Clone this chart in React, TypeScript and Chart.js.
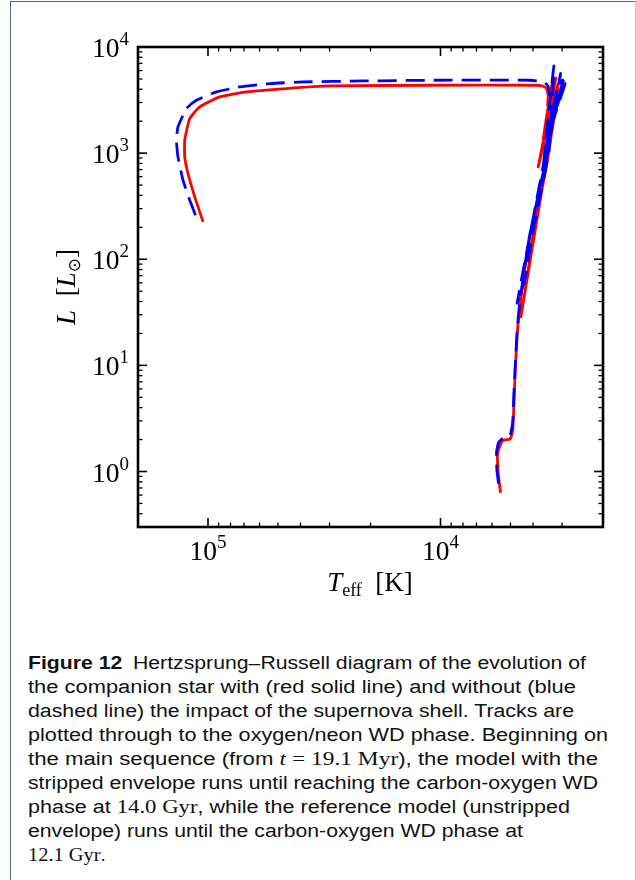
import React, { useEffect, useLayoutEffect, useRef } from "react";
import { Chart, registerables } from "chart.js";

Chart.register(...registerables);

// Evolutionary tracks of the companion star: effective temperature [K] and luminosity [L_sun]
// With the supernova shell impact (stripped envelope)
const strippedTeff = [
  5517, 5649, 5682, 5462, 5287, 5030, 4917, 4868, 4820, 4754, 4661, 4556, 4410, 4126, 3737, 3497,
  3328, 3190, 4510, 4250, 4005, 3664, 3412, 3117, 3800, 3190, 3628, 3277, 3497, 3384, 3462, 3442,
  3497, 3628, 3861, 11110, 29940, 45960, 68320, 89010, 108500, 119800, 125900, 125900, 121900,
  114000, 105000,
];
const strippedLum = [
  0.63, 0.97, 1.49, 1.89, 1.99, 2.02, 2.3, 2.85, 5.08, 10.5, 21.6, 35.7, 63.7, 163, 448, 859, 1531,
  2827, 28.8, 63.7, 163, 448, 1066, 4524, 743, 5075, 1324, 5219, 2043, 3746, 2827, 3436, 4060, 4266,
  4360, 4360, 4295, 4060, 3772, 3383, 2724, 2119, 1324, 922, 643, 387, 225,
];

// Reference model without the shell impact (unstripped envelope)
const unstrippedTeff = [
  5627, 5722, 5740, 5610, 5340, 5030, 4932, 4883, 4835, 4763, 4680, 4578, 4425, 4147, 3756, 3522,
  3350, 3190, 4680, 4335, 4046, 3681, 3412, 3253, 3674, 3043, 3556, 2938, 3384, 2909, 3318, 2975,
  3384, 3442, 3556, 3737, 4126, 11110, 21520, 39000, 54250, 73010, 91990, 112100, 123800, 134600,
  136700, 134600, 128100, 119800, 110300,
];
const unstrippedLum = [
  0.77, 1.04, 1.53, 1.9, 2.08, 2.17, 2.58, 3.07, 5.27, 10.6, 21.6, 36.3, 63.7, 163, 448, 859, 1531,
  3150, 38.7, 63.7, 163, 448, 1066, 6625, 499, 5617, 1066, 5219, 1644, 4524, 2043, 4861, 3511, 4266,
  4603, 4756, 4861, 4861, 4786, 4685, 4524, 4203, 3772, 3150, 2630, 1767, 1324, 922, 556, 360, 225,
];

// Axis ranges and ticks
const teffRange = [2000, 200000];
const lumRange = [0.3, 10000];
const xMajorTicks = [1e5, 1e4];
const xTickLabels = ["10^5", "10^4"];
const xMinorTicks = [9e4, 8e4, 7e4, 6e4, 5e4, 4e4, 3e4, 2e4, 9e3, 8e3, 7e3, 6e3, 5e3, 4e3, 3e3];
const yMajorTicks = [1, 10, 100, 1000, 10000];
const yTickLabels = ["10^0", "10^1", "10^2", "10^3", "10^4"];
const yMinorTicks = [
  0.4, 0.5, 0.6, 0.7, 0.8, 0.9,
  2, 3, 4, 5, 6, 7, 8, 9,
  20, 30, 40, 50, 60, 70, 80, 90,
  200, 300, 400, 500, 600, 700, 800, 900,
  2000, 3000, 4000, 5000, 6000, 7000, 8000, 9000,
];

const SERIF = '"Liberation Serif", "DejaVu Serif", serif';
const SANS = '"Liberation Sans", "DejaVu Sans", sans-serif';

const toPoints = (xs: number[], ys: number[]) => xs.map((x, i) => ({ x, y: ys[i] }));

type Piece = { font: string; text: string; dy: number };

// Draws a run of text pieces (font, text, baseline shift) starting at x
function drawRun(ctx: CanvasRenderingContext2D, pieces: Piece[], x: number, y: number) {
  let cx = x;
  for (const p of pieces) {
    ctx.font = p.font;
    ctx.fillText(p.text, cx, y + p.dy);
    cx += ctx.measureText(p.text).width;
  }
}
function runWidth(ctx: CanvasRenderingContext2D, pieces: Piece[]) {
  let w = 0;
  for (const p of pieces) {
    ctx.font = p.font;
    w += ctx.measureText(p.text).width;
  }
  return w;
}
function powerPieces(label: string): Piece[] {
  const [base, exp] = label.split("^");
  return [
    { font: `27.5px ${SERIF}`, text: base, dy: 0 },
    { font: `19px ${SERIF}`, text: exp, dy: -12 },
  ];
}

const hrFrame = {
  id: "hrFrame",
  afterDraw(chart: any) {
    const { ctx, chartArea: a, scales } = chart;
    const xs = scales.x;
    const ys = scales.y;
    ctx.save();
    ctx.strokeStyle = "#000";
    ctx.fillStyle = "#000";
    ctx.lineCap = "butt";

    const seg = (x1: number, y1: number, x2: number, y2: number) => {
      ctx.beginPath();
      ctx.moveTo(x1, y1);
      ctx.lineTo(x2, y2);
      ctx.stroke();
    };
    const xTick = (v: number, len: number) => {
      const p = xs.getPixelForValue(v);
      seg(p, a.bottom, p, a.bottom - len);
      seg(p, a.top, p, a.top + len);
    };
    const yTick = (v: number, len: number) => {
      const p = ys.getPixelForValue(v);
      seg(a.left, p, a.left + len, p);
      seg(a.right, p, a.right - len, p);
    };
    ctx.lineWidth = 1.6;
    xMajorTicks.forEach((v) => xTick(v, 9));
    yMajorTicks.forEach((v) => yTick(v, 9));
    ctx.lineWidth = 1.3;
    xMinorTicks.forEach((v) => xTick(v, 4.5));
    yMinorTicks.forEach((v) => yTick(v, 4.5));

    ctx.lineWidth = 2.6;
    ctx.strokeRect(a.left, a.top, a.right - a.left, a.bottom - a.top);

    // Tick labels
    ctx.textBaseline = "alphabetic";
    ctx.textAlign = "left";
    xMajorTicks.forEach((v, i) => {
      const pieces = powerPieces(xTickLabels[i]);
      const w = runWidth(ctx, pieces);
      drawRun(ctx, pieces, xs.getPixelForValue(v) - w / 2, 560);
    });
    yMajorTicks.forEach((v, i) => {
      const pieces = powerPieces(yTickLabels[i]);
      const w = runWidth(ctx, pieces);
      drawRun(ctx, pieces, 129 - w, ys.getPixelForValue(v) + 10);
    });

    // x-axis title: T_eff [K]
    const xTitle: Piece[] = [
      { font: `italic 27px ${SERIF}`, text: "T", dy: 0 },
      { font: `18px ${SERIF}`, text: "eff", dy: 5 },
      { font: `27px ${SERIF}`, text: "\u2002[K]", dy: 0 },
    ];
    const xw = runWidth(ctx, xTitle);
    drawRun(ctx, xTitle, 370 - xw / 2, 591);

    // y-axis title: L [L_sun]
    const yTitle: Piece[] = [
      { font: `italic 27px ${SERIF}`, text: "L", dy: 0 },
      { font: `27px ${SERIF}`, text: "\u2002[", dy: 0 },
      { font: `italic 27px ${SERIF}`, text: "L", dy: 0 },
      { font: `17px "DejaVu Sans", ${SERIF}`, text: "\u2299", dy: 5 },
      { font: `27px ${SERIF}`, text: "]", dy: 0 },
    ];
    const yw = runWidth(ctx, yTitle);
    ctx.translate(75, 287);
    ctx.rotate(-Math.PI / 2);
    drawRun(ctx, yTitle, -yw / 2, 0);

    ctx.restore();
  },
};

function HRChart() {
  const ref = useRef<HTMLCanvasElement>(null);
  useEffect(() => {
    if (!ref.current) return;
    const chart = new Chart(ref.current, {
      type: "scatter",
      data: {
        datasets: [
          {
            label: "unstripped",
            data: toPoints(unstrippedTeff, unstrippedLum),
            showLine: true,
            borderColor: "#0000ff",
            borderWidth: 2.8,
            borderDash: [19, 9],
            pointRadius: 0,
            borderJoinStyle: "round",
            tension: 0.15,
            order: 0,
          },
          {
            label: "stripped",
            data: toPoints(strippedTeff, strippedLum),
            showLine: true,
            borderColor: "#ff0000",
            borderWidth: 2.8,
            pointRadius: 0,
            borderJoinStyle: "round",
            tension: 0.15,
            order: 1,
          },
        ],
      },
      options: {
        animation: false,
        responsive: false,
        devicePixelRatio: 1,
        layout: { padding: { top: 47, right: 33, left: 0, bottom: 0 } },
        plugins: { legend: { display: false }, tooltip: { enabled: false } },
        scales: {
          x: {
            type: "logarithmic",
            min: teffRange[0],
            max: teffRange[1],
            reverse: true,
            grid: { display: false },
            border: { display: false },
            ticks: { display: false },
            afterFit: (s: any) => {
              s.height = 93;
            },
          },
          y: {
            type: "logarithmic",
            min: lumRange[0],
            max: lumRange[1],
            grid: { display: false },
            border: { display: false },
            ticks: { display: false },
            afterFit: (s: any) => {
              s.width = 138;
            },
          },
        },
      },
      plugins: [hrFrame],
    } as any);
    return () => chart.destroy();
  }, []);
  return (
    <canvas
      ref={ref}
      width={636}
      height={620}
      style={{ position: "absolute", left: 0, top: 0, width: 636, height: 620 }}
    />
  );
}

const mathStyle: React.CSSProperties = { fontFamily: SERIF, fontSize: 19 };

const captionLines: { content: React.ReactNode; width: number }[] = [
  {
    content: (
      <>
        <b>Figure 12</b>
        {"\u2002Hertzsprung\u2013Russell diagram of the evolution of"}
      </>
    ),
    width: 558,
  },
  { content: "the companion star with (red solid line) and without (blue", width: 548 },
  { content: "dashed line) the impact of the supernova shell. Tracks are", width: 546 },
  { content: "plotted through to the oxygen/neon WD phase. Beginning on", width: 580 },
  {
    content: (
      <>
        {"the main sequence (from "}
        <span style={mathStyle}>
          <i>t</i>
          {" = 19.1 Myr"}
        </span>
        {"), the model with the"}
      </>
    ),
    width: 570,
  },
  { content: "stripped envelope runs until reaching the carbon-oxygen WD", width: 570 },
  {
    content: (
      <>
        {"phase at "}
        <span style={mathStyle}>14.0 Gyr</span>
        {", while the reference model (unstripped"}
      </>
    ),
    width: 542,
  },
  { content: "envelope) runs until the carbon-oxygen WD phase at", width: 495 },
  {
    content: (
      <>
        <span style={mathStyle}>12.1 Gyr</span>.
      </>
    ),
    width: 78,
  },
];

function Caption() {
  const refs = useRef<(HTMLSpanElement | null)[]>([]);
  useLayoutEffect(() => {
    refs.current.forEach((el, i) => {
      if (!el) return;
      el.style.transform = "none";
      const w = el.getBoundingClientRect().width;
      if (w > 0) el.style.transform = `scaleX(${captionLines[i].width / w})`;
    });
  }, []);
  return (
    <div
      style={{
        position: "absolute",
        left: 27.5,
        top: 651,
        fontFamily: SANS,
        fontSize: 18,
        lineHeight: "24px",
        color: "#111",
      }}
    >
      {captionLines.map((line, i) => (
        <div key={i} style={{ height: 24, whiteSpace: "nowrap" }}>
          <span
            ref={(el) => {
              refs.current[i] = el;
            }}
            style={{ display: "inline-block", transformOrigin: "left center" }}
          >
            {line.content}
          </span>
        </div>
      ))}
    </div>
  );
}

export default function App() {
  return (
    <div
      style={{
        position: "absolute",
        left: 0,
        top: 0,
        width: 636,
        height: 880,
        background: "#fff",
        overflow: "hidden",
      }}
    >
      <div
        style={{
          position: "absolute",
          left: 10,
          top: 1,
          width: 624,
          height: 900,
          borderLeft: "1.5px solid #4c6d93",
          borderTop: "1.5px solid #4c6d93",
          borderRight: "1px solid #c8c8c8",
        }}
      />
      <HRChart />
      <Caption />
    </div>
  );
}
